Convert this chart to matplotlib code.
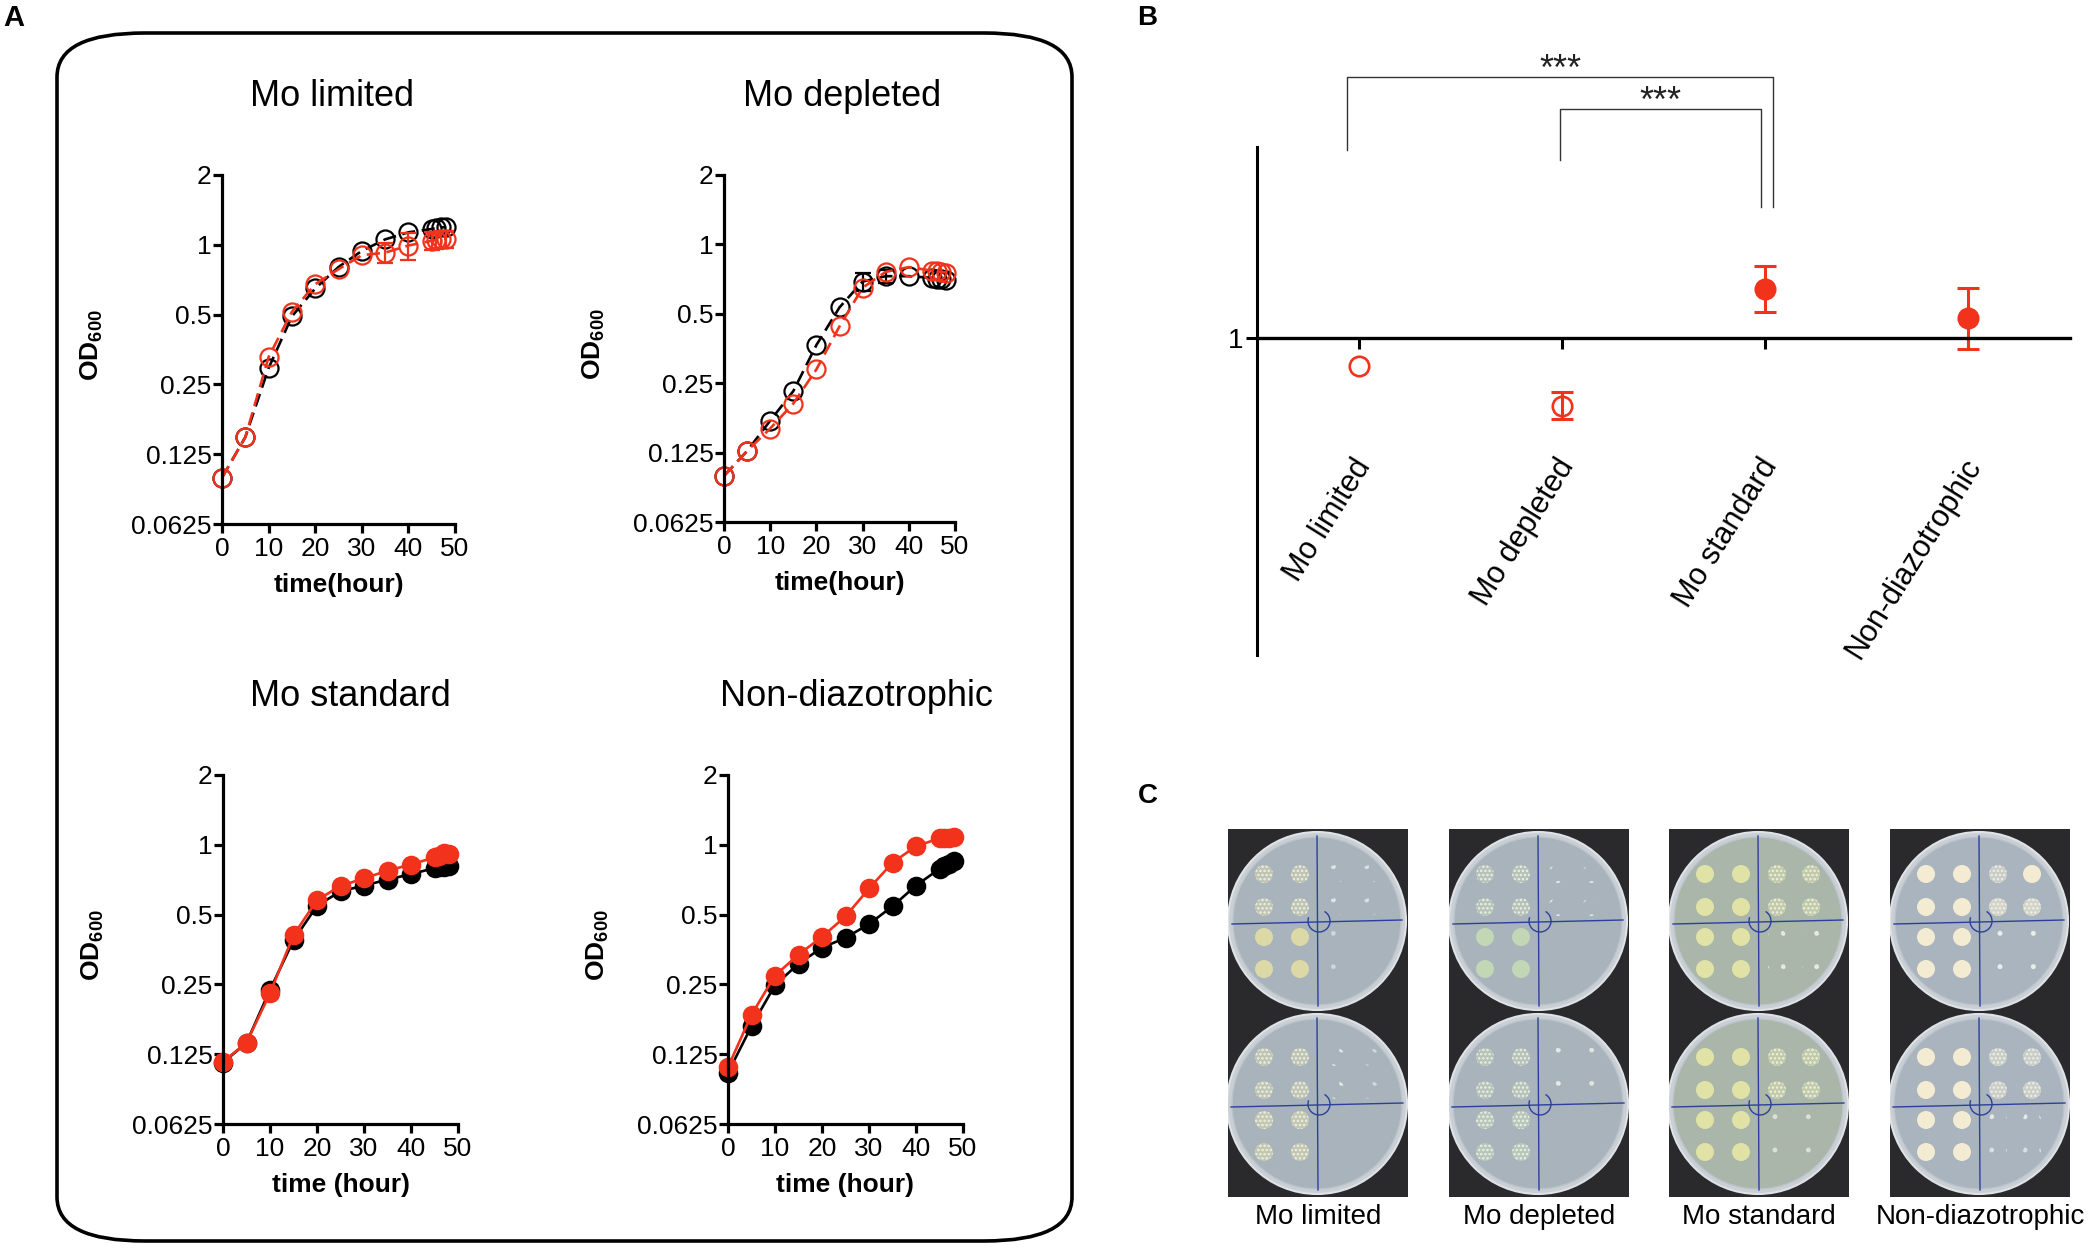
import numpy as np
import matplotlib.pyplot as plt
from matplotlib.patches import FancyBboxPatch, Circle, Rectangle, Arc

plt.rcParams['font.family'] = ['Liberation Sans', 'DejaVu Sans']
plt.rcParams['mathtext.fontset'] = 'custom'
plt.rcParams['mathtext.rm'] = 'Liberation Sans'
plt.rcParams['mathtext.bf'] = 'Liberation Sans:bold'
plt.rcParams['hatch.linewidth'] = 1.2

W, H = 2094, 1248
RED = '#F2321B'

# ---- panel A data: OD600 growth curves (black = strain 1, red = strain 2)
time = [0, 5, 10, 15, 20, 25, 30, 35, 40, 45, 46, 47, 48]

lim_black = [0.099, 0.148, 0.294, 0.491, 0.648, 0.802, 0.941, 1.055, 1.132, 1.17, 1.18, 1.19, 1.19]
lim_red = [0.099, 0.148, 0.328, 0.514, 0.676, 0.785, 0.902, 0.925, 0.993, 1.04, 1.05, 1.06, 1.06]
lim_red_err = [0, 0, 0, 0, 0, 0, 0, 0.09, 0.13, 0.09, 0.09, 0.09, 0.09]

dep_black = [0.099, 0.127, 0.172, 0.231, 0.366, 0.533, 0.690, 0.728, 0.728, 0.716, 0.71, 0.705, 0.70]
dep_black_err = [0, 0, 0, 0, 0, 0, 0.065, 0.05, 0, 0, 0, 0, 0]
dep_red = [0.099, 0.127, 0.159, 0.204, 0.287, 0.441, 0.649, 0.760, 0.797, 0.77, 0.765, 0.76, 0.755]

std_black = [0.115, 0.140, 0.237, 0.387, 0.546, 0.630, 0.667, 0.708, 0.747, 0.794, 0.80, 0.805, 0.81]
std_red = [0.116, 0.140, 0.229, 0.408, 0.577, 0.665, 0.716, 0.774, 0.822, 0.883, 0.895, 0.926, 0.91]

non_black = [0.104, 0.165, 0.248, 0.307, 0.360, 0.397, 0.455, 0.543, 0.667, 0.788, 0.81, 0.83, 0.852]
non_red = [0.110, 0.185, 0.273, 0.336, 0.401, 0.491, 0.648, 0.837, 0.986, 1.066, 1.07, 1.075, 1.08]

od_ticks = [0.0625, 0.125, 0.25, 0.5, 1, 2]
od_ticklabels = ['0.0625', '0.125', '0.25', '0.5', '1', '2']

# ---- panel B data
conditions = ['Mo limited', 'Mo depleted', 'Mo standard', 'Non-diazotrophic']
ratio = [0.911, 0.785, 1.153, 1.061]
ratio_err = [0.0, 0.042, 0.073, 0.096]
ratio_filled = [False, False, True, True]
# significance brackets: (group a, group b, top height, left foot, right foot)
brackets = [(0, 2, 1.82, 1.59, 1.41), (1, 2, 1.72, 1.56, 1.41)]

# ---- panel C: spot-assay plates, 4x4 spots per plate (2 solid, 1 speckled, <1 sparse)
plate_top = {
    'Mo limited': [[1, 1, 0.4, 0.3], [1, 1, 0.4, 0.3], [2, 2, 0.15, 0], [2, 2, 0.15, 0]],
    'Mo depleted': [[1, 1, 0.5, 0.4], [1, 1, 0.5, 0.4], [2, 2, 0, 0], [2, 2, 0, 0]],
    'Mo standard': [[2, 2, 1, 1], [2, 2, 1, 1], [2, 2, 0.5, 0.5], [2, 2, 0.5, 0.5]],
    'Non-diazotrophic': [[2, 2, 1, 2], [2, 2, 1.5, 1.5], [2, 2, 0.6, 0.6], [2, 2, 0.6, 0.6]],
}
plate_bottom = {
    'Mo limited': [[1, 1, 0.5, 0.2], [1, 1, 0.5, 0.2], [1.5, 1.5, 0, 0], [1.5, 1.5, 0, 0]],
    'Mo depleted': [[1, 1, 0.5, 0.4], [1, 1, 0.5, 0.4], [1.5, 1.5, 0, 0], [1.5, 1.5, 0, 0]],
    'Mo standard': [[2, 2, 1, 1], [2, 2, 1, 1], [2, 2, 0.3, 0.3], [2, 2, 0.3, 0.3]],
    'Non-diazotrophic': [[2, 2, 1, 1], [2, 2, 1, 1], [2, 2, 0.5, 0.5], [2, 2, 0.3, 0.3]],
}
agar_colors = ['#a9b3bc', '#a8b3bb', '#a9b6a9', '#aab4be']
spot_colors = ['#dcd9a6', '#c3d6b6', '#e0e2a6', '#f3ecd2']

fig = plt.figure(figsize=(W / 100, H / 100), dpi=100)


def px_axes(l, t, r, b):
    return fig.add_axes([l / W, 1 - b / H, (r - l) / W, (b - t) / H])


def ftext(x, y, s, **kw):
    fig.text(x / W, 1 - y / H, s, **kw)


# overlay in pixel units for the rounded frame
ov = fig.add_axes([0, 0, 1, 1])
ov.set_xlim(0, W)
ov.set_ylim(H, 0)
ov.axis('off')
ov.add_patch(FancyBboxPatch((57, 33), 1015, 1208, boxstyle='round,pad=0,rounding_size=88',
                            mutation_aspect=0.5, fill=False, lw=2.6, ec='black'))

ftext(14, 18, 'A', fontsize=21, fontweight='bold', ha='center', va='center')
ftext(1147, 18, 'B', fontsize=20, fontweight='bold', ha='center', va='center')
ftext(1148, 796, 'C', fontsize=20, fontweight='bold', ha='center', va='center')

growth = [
    ('Mo limited', (222, 175, 455, 524), lim_black, None, lim_red, lim_red_err, False, '--', 'time(hour)'),
    ('Mo depleted', (724, 175, 955, 522), dep_black, dep_black_err, dep_red, None, False, '--', 'time(hour)'),
    ('Mo standard', (223, 775, 458, 1124), std_black, None, std_red, None, True, '-', 'time (hour)'),
    ('Non-diazotrophic', (728, 775, 963, 1124), non_black, None, non_red, None, True, '-', 'time (hour)'),
]
title_pos = [(332, 96), (842, 96), (350, 696), (856, 696)]

for (title, box, yb, eb, yr, er, filled, ls, xl), (tx, ty) in zip(growth, title_pos):
    l, t, r, b = box
    ax = px_axes(l, t, r, b)
    for y, e, c in [(yb, eb, 'black'), (yr, er, RED)]:
        kw = dict(dashes=(5, 2.5)) if ls == '--' else {}
        ax.plot(time, y, color=c, ls=ls, lw=1.9, marker='o', ms=13 if not filled else 12.5,
                mfc=c if filled else 'none', mec=c, mew=1.6, clip_on=False, **kw)
        if e is not None:
            idx = [i for i, v in enumerate(e) if v > 0]
            ax.errorbar([time[i] for i in idx], [y[i] for i in idx], yerr=[e[i] for i in idx],
                        fmt='none', ecolor=c, capsize=6, elinewidth=1.6, capthick=1.6,
                        clip_on=False)
    ax.set_yscale('log', base=2)
    ax.set_ylim(0.0625, 2)
    ax.set_xlim(0, 50)
    ax.set_yticks(od_ticks)
    ax.set_yticklabels(od_ticklabels)
    ax.yaxis.set_minor_locator(plt.NullLocator())
    ax.set_xticks([0, 10, 20, 30, 40, 50])
    for s in ['top', 'right']:
        ax.spines[s].set_visible(False)
    for s in ['left', 'bottom']:
        ax.spines[s].set_linewidth(2.3)
    ax.tick_params(width=2.3, length=6.5, labelsize=19, direction='out')
    ax.tick_params(axis='y', pad=1)
    ax.tick_params(axis='x', pad=3)
    ax.patch.set_alpha(0)
    ftext(tx, ty, title, fontsize=26, ha='center', va='center')
    ftext(l - 130, (t + b) / 2 - 4, r'$\mathbf{OD}_{\mathbf{600}}$', fontsize=19,
          rotation=90, ha='center', va='center')
    ftext((l + r) / 2, b + 61, xl, fontsize=19, fontweight='bold', ha='center', va='center')

# ---- panel B
axb = px_axes(1257, 147, 2070, 655)
xs = np.arange(len(conditions)) + 0.5
for x, v, e, f in zip(xs, ratio, ratio_err, ratio_filled):
    axb.plot([x], [v], color=RED, marker='o', ms=14, mfc=RED if f else 'none', mec=RED,
             mew=1.9, ls='none')
    if e > 0:
        axb.errorbar([x], [v], yerr=[e], fmt='none', ecolor=RED, capsize=8, elinewidth=2.2,
                     capthick=2.2)
axb.set_xlim(0, 4)
axb.set_ylim(0, 1.6)
axb.spines['top'].set_visible(False)
axb.spines['right'].set_visible(False)
axb.spines['bottom'].set_position(('data', 1))
axb.spines['left'].set_linewidth(2.2)
axb.spines['bottom'].set_linewidth(2.4)
axb.set_xticks(xs)
axb.set_xticklabels([])
axb.set_yticks([1])
axb.set_yticklabels(['1'])
axb.tick_params(width=2.2, length=8, labelsize=20, direction='out')
axb.tick_params(axis='y', pad=2)
for x, lab in zip(xs, conditions):
    axb.text(x + 0.03, 0.61, lab, rotation=58, ha='right', va='center',
             rotation_mode='anchor', fontsize=22)
for a, b, top, lf, rf in brackets:
    xa, xb = xs[a] - 0.055 + 0.045 * a, xs[b] + 0.04 - 0.06 * a
    axb.plot([xa, xa, xb, xb], [lf, top, top, rf], color='#333333', lw=1.0, clip_on=False)
    axb.text((xa + xb) / 2, top - 0.01, '***', ha='center', va='baseline', fontsize=26,
             color='#222222')

# ---- panel C: schematic photographs of spot assays
photo_left = [1228, 1449, 1669, 1890]
col_off = [-53, -17, 19, 53]
row_off = [-47, -14, 16, 48]


def draw_plate(ax, cx, cy, rad, spots, agar, spot):
    ax.add_patch(Circle((cx, cy), rad, fc='#c9cfd5', ec='#dfe3e6', lw=1.5))
    ax.add_patch(Circle((cx, cy), rad - 5, fc=agar, ec='#bcc4cb', lw=1.0))
    ax.plot([cx, cx + 1], [cy - rad + 4, cy + rad - 4], color='#2d3f9c', lw=1.0)
    ax.plot([cx - rad + 4, cx + rad - 4], [cy + 3, cy - 1], color='#2d3f9c', lw=1.0)
    ax.add_patch(Arc((cx + 2, cy), 22, 22, theta1=-60, theta2=200, color='#2d3f9c', lw=1.0))
    for i, row in enumerate(spots):
        for j, v in enumerate(row):
            x, y = cx + col_off[j], cy + row_off[i]
            if v >= 2:
                ax.add_patch(Circle((x, y), 9, fc=spot, ec='none'))
            elif v >= 1:
                ax.add_patch(Circle((x, y), 9, fc=spot, alpha=0.45 + 0.2 * (v - 1), ec='none'))
                ax.add_patch(Circle((x, y), 9, fill=False, hatch='....', ec='#eef0e6', lw=0))
            elif v > 0:
                ax.add_patch(Circle((x, y), 9, fill=False, hatch='.', ec='#eef0ea',
                                    lw=0, alpha=min(1, v + 0.3)))


for k, name in enumerate(conditions):
    l = photo_left[k]
    ax = px_axes(l, 829, l + 180, 1197)
    ax.set_xlim(0, 180)
    ax.set_ylim(368, 0)
    ax.axis('off')
    ax.add_patch(Rectangle((0, 0), 180, 368, fc='#2a2a2c', ec='none'))
    draw_plate(ax, 89, 92, 89, plate_top[name], agar_colors[k], spot_colors[k])
    draw_plate(ax, 89, 275, 90, plate_bottom[name], agar_colors[k], spot_colors[k])
    ftext(l + 90, 1217, name, fontsize=20, ha='center', va='center')

fig.savefig('out.png', dpi=100)
